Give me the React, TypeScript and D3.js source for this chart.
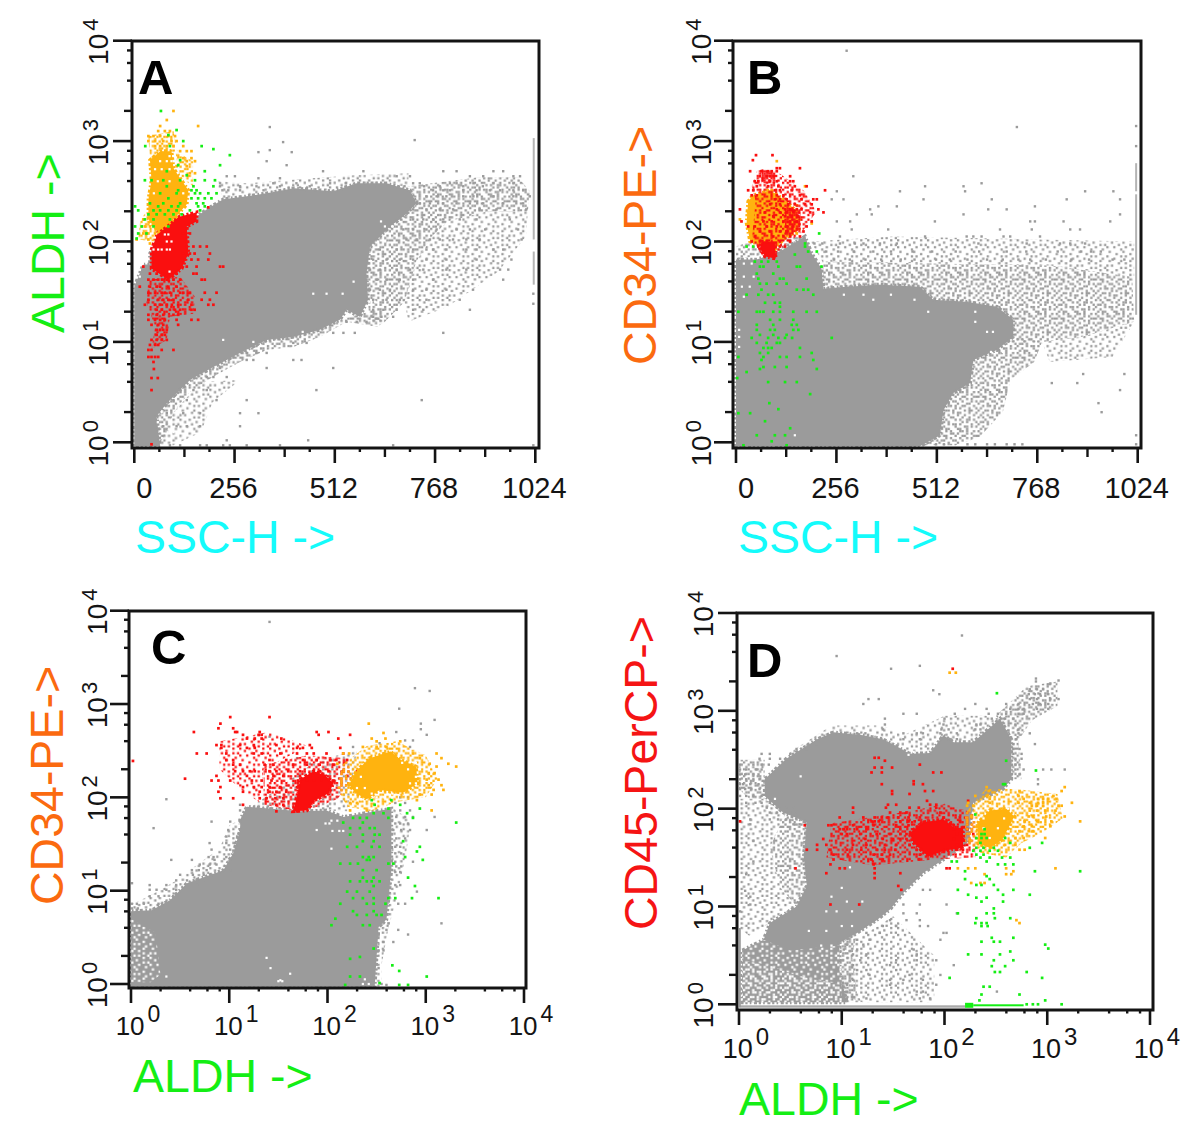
import React from "react";
import * as d3 from "d3";

// Rows are [yExponent, x1, x2, ...]; polygons are [x, yExponent]. y (and x on log axes) are log10 intensities.
type Row = number[];
type Poly = number[][];

const COLORS = { gray: "#9b9b9b", red: "#fa0f0f", orange: "#ffb30f", green: "#14ee14", white: "#ffffff", edge: "#b4b4b4" };
const linearTicks = [0, 256, 512, 768, 1024];
const linearMinor = [64, 128, 192, 320, 384, 448, 576, 640, 704, 832, 896, 960];
const decades = [0, 1, 2, 3, 4];
const minorFactors = [2, 4, 6, 8];

// Stipple textures for the loosely populated parts of each dot plot
const speckDense = ["x.xx.xxx.x.xx","xx.xxx.xxx.x.",".xxx.x.xx.xxx","x.x.xxx.xxx.x","xxx.x.xx.x.xx",".x.xxx.xxx.x.","xx.x.xxx.xxxx","x.xxx.x.xx.x.",".xx.xxx.x.xxx","xx.xx.xxx.x.x","x.xxx.x.xxx.x",".xx.x.xxx.xx.","xxx.xxx.x.x.x"];
const speckMid = ["x..x.x...xx.x..x.",".x...xx.x...x.x..","x.xx...x..xx...xx","...x.x...x..x.x..",".xx...xx..x...x.x","x...x...x...xx...","..x.xx.x..xx...x.",".x.....x.x...x..x","x..xx.x....x.xx..","..x...x.xx...x..x",".x..x...x..x...x.","x.x..xx...x..x...","...x...x.x..xx.x.",".xx.x.....x.x...x","x...x.xx.x....x..","..x....x...xx.x.x",".x.xx...xx..x...."];
const speckSparse = ["x...x.....x..","..x....x.....",".....x....x.x","x..x....x....","......x....x.",".x.....x.....","....x.....x..","x.....x.x....","...x.......x.",".x....x...x..",".....x..x....","x.x.......x..","......x.x...x"];
const SPECK = 2.3;
const tex = (c: string, d: "dense" | "mid" | "sparse") => `url(#${c}-${d})`;

// ---------- Panel A ----------
const aGrayPoly: Poly = [[0,-.04],[0,1.55],[23,1.77],[40,1.77],[40,1.88],[66,2.08],[117,2.22],[159,2.25],[189,2.33],[227,2.42],[287,2.45],[338,2.48],[406,2.53],[508,2.5],[568,2.58],[644,2.58],[704,2.51],[721,2.38],[687,2.25],[653,2.15],[602,1.95],[593,1.68],[597,1.42],[576,1.25],[542,1.32],[525,1.22],[474,1.12],[406,1.05],[338,1.02],[270,.89],[202,.75],[142,.62],[83,.39],[57,.26],[66,-.04]];
const aGrayMid: Poly[] = [
  [[700,2.55],[800,2.6],[880,2.64],[980,2.64],[1010,2.5],[1005,2.3],[900,2.3],[800,2.2],[760,2.05],[720,1.8],[690,1.4],[640,1.2],[600,1.2],[597,1.42],[593,1.68],[602,1.95],[653,2.15],[687,2.25],[721,2.38]],
  [[597,1.3],[640,1.2],[620,1.15],[542,1.2],[474,1.05],[406,.95],[338,.92],[270,.8],[200,.65],[142,.5],[100,.3],[83,.1],[66,0],[57,.26],[83,.39],[142,.62],[202,.75],[270,.89],[338,1.02],[406,1.05],[474,1.12],[525,1.22]],
];
const aGraySparse: Poly[] = [
  [[800,2.2],[900,2.3],[1005,2.3],[1000,2.05],[930,1.7],[800,1.35],[700,1.2],[690,1.4],[720,1.8],[760,2.05]],
  [[57,-.03],[100,-.03],[170,.1],[200,.4],[270,.62],[170,.6],[100,.3]],
  [[210,2.6],[290,2.58],[420,2.62],[560,2.66],[700,2.68],[700,2.55],[568,2.58],[508,2.5],[406,2.53],[287,2.45],[227,2.42]],
];
const aGrayRows: Row[] = [
[3.14,346],[3.01,716],[2.99,380],[2.91,346],[2.89,317,402],[2.8,338],[2.76,389],[2.7,482,585,789,823,917,942],[2.65,236,257,670,704,857,891,968,985],[2.63,317,372],
[2.58,219,355,414,500,540,712,729,806,823,866,917,968],[2.55,219,270,312,372,448,580,620,650,690,740,780,840,890],[2.51,225,240,270,330,763,789,806,840,874,908,934,968,993],[2.45,746,772,797,840,866,917,968,1010],[2.38,729,755,789,823,857,891,942,993],[2.32,712,746,780,814,882,925,1001],[2.22,712,738,763,789,831,874,959],[2.12,687,712,746,772,823,857,896,980],[2.02,695,721,755,780,814,848,882,989],[1.92,627,670,712,746,763,797,848,874,917,942],[1.82,610,644,678,712,746,797,874,963],[1.72,602,627,670,704,738,797,848,934,955],[1.62,593,619,644,678,712,763,942],[1.52,602,627,653,712,746,797,865],[1.42,610,644,678,746,831],[1.32,610,636,670,712,738,857],[1.25,610,631,661],[1.2,542,568,593],[1.09,508,534,563,789],[.99,406,440],[.89,287,312,338],[.82,406,427,287,304],[.74,508,338,219],[.65,202,236,185],[.52,465,117,151,185],[.42,734,100,134,210,287],[.29,83,125,168,270,317],[.16,74,108,134,168,270],[.02,236,444],[-.03,91,117,168,185,227,244,287,372,661,1019],[1.48,1019],[1.38,1019]
];
const aGrayWhite: Row[] = [[1.02,227],[1.48,457,491,532],[1.65,14],[1.72,14],[1.78,14,22],[1,304],[.3,70],[.2,90,60],[.1,85,100],[1.1,430],[2.0,622,640],[2.15,640,660],[2.2,630],[1.6,560],[1.4,600,615]];
const aRedPoly: Poly = [[44,1.92],[66,2.15],[117,2.25],[159,2.29],[159,2.2],[134,2.15],[138,1.88],[121,1.73],[87,1.62],[44,1.73]];
const aRedMid: Poly[] = [[[36,1.62],[117,1.65],[155,1.45],[151,1.28],[91,1.25],[83,1.02],[44,.93],[53,1.15],[31,1.39]]];
const aRedRows: Row[] = [
[2.34,189],[2.08,125,142],[1.95,134,151,168,185],[1.88,125,142,154,193],[1.82,129,146,163,189],[1.75,23,134,159,219,227],[1.68,40,57,74,91,108,151,159],[1.62,36,49,61,71,83,100,117,172,180],[1.55,40,57,66,87,108,14],[1.49,36,53,70,78,91,117,125,142,180,210],[1.42,36,61,74,87,100,138,172,193],[1.37,27,53,66,83,96,112,146,189,202],[1.32,57,70,91,104,117,146,154],[1.27,36,57,74,100,112],[1.22,36,53,66,78,108,146,163],[1.17,44,61,74,112],[1.12,57,66,74,83],[1.07,57,70,78],[1.02,44,57,70,83],[.97,40,53,61],[.92,36,44,70,100],[.85,36,44,53,61],[.8,49],[.73,50],[.64,44,60],[.52,44],[-.02,44]
];
const aRedWhite: Row[] = [[1.92,49,61,70,83,91],[2,83,95],[2.07,78,87],[1.7,90]];
const aOrangePoly: Poly = [[40,2.81],[66,2.9],[95,2.9],[100,2.73],[117,2.63],[138,2.51],[134,2.37],[100,2.22],[61,2.1],[36,2.22],[36,2.42],[44,2.61]];
const aOrangeMid: Poly[] = [[[36,3.05],[100,3.1],[110,2.9],[66,2.88],[40,2.8]],[[30,2.3],[60,2.1],[50,2],[10,2.02],[15,2.2]],[[105,2.9],[150,2.8],[150,2.55],[115,2.65]]];
const aOrangeRows: Row[] = [[3.3,100],[3.21,83],[3.15,66,163],[3.1,61,78,91],[3.05,36,49,66,87,104],[3,36,53,74,95,108],[2.95,53,66,83,100,125],[2.9,117,134,146],[2.83,125,146],[2.8,134,155],[2.75,108,134],[2.68,142,155],[2.22,23],[2.15,27,40],[2.08,23,36,53],[2.02,6,36],[1.98,40]];
const aOrangeWhite: Row[] = [[2.85,90,100],[2.8,66,83,95],[2.72,53,70,90],[2.6,60,90],[2.48,50,125]];
const aGreenRows: Row[] = [[3.3,68],[3.11,108],[3.06,87],[3,125],[2.95,28,91,172],[2.92,202],[2.86,244],[2.81,117],[2.76,112,219],[2.7,83,180],[2.66,134],[2.61,27,44,74,117,155,180,206],[2.55,83,151,202],[2.51,112,146,159],[2.48,66,108,155,168,189,210],[2.43,87,146,163,180,197],[2.38,40,74,117,159,176],[2.35,2,61,95,112,163,180],[2.31,10,49,66,87,108,142,168],[2.27,36,57,78,100,121],[2.22,27,49,91],[2.15,2,19,49,87],[2.08,10,31],[2.03,6]];
const aEdge: number[][] = [[3.03,2.02],[1.9,1.57]];

// ---------- Panel B ----------
const bGrayPoly: Poly = [[0,-.04],[0,1.82],[53,1.82],[112,1.9],[176,2.05],[193,1.88],[218,1.73],[223,1.53],[282,1.55],[367,1.57],[469,1.55],[503,1.42],[588,1.4],[665,1.35],[707,1.22],[707,1.05],[665,.92],[605,.82],[597,.59],[554,.49],[529,.32],[520,.07],[469,-.04]];
const bGrayMid: Poly[] = [
  [[220,1.8],[500,1.78],[800,1.76],[1010,1.65],[1015,1.2],[880,1.05],[780,1],[700,1],[707,1.22],[665,1.35],[588,1.4],[503,1.42],[469,1.55],[223,1.53]],
  [[665,.92],[707,1.05],[780,1],[760,.8],[700,.62],[680,.3],[620,.05],[560,-.03],[469,-.03],[520,.07],[529,.32],[554,.49],[597,.59],[605,.82]],
  [[0,1.82],[112,1.9],[176,2.05],[50,2.02],[0,1.95]],
];
const bGraySparse: Poly[] = [
  [[190,2.0],[400,2.05],[1015,2.0],[1015,1.65],[800,1.76],[500,1.78],[220,1.8]],
  [[880,1.05],[1015,1.2],[960,.85],[800,.8],[780,1]],
];
const bGrayRows: Row[] = [
[3.9,282],[3.15,1020],[3.14,716],[2.95,1020],[2.65,299],[2.58,626],[2.55,482,580],[2.5,257,418,584,890,962],[2.42,244,274,478,652,843,979],[2.35,363,410,762],[2.32,342,643,690],[2.27,308,346,580,979],[2.2,257,291,507,835,750,762,954],[2.12,295,388,673,852,877,754],[2.05,482,265,588,605,626,682,699,775],[1.98,265,303,325,367,410,618,741,852,890,826,200,220],
[1.9,230,260,300,350,395,450,500,560,620,690,740,820,880,930,905],[1.82,250,290,330,370,420,455,510,545,590,640,680,720,750,790,855,900,960,990],[.68,885,990],[.59,870,805],[.52,979],[.39,924],[.3,932],[.07,1020],[-.02,510,530,590,610,640,660,690,710,730,1020]
];
const bGrayWhite: Row[] = [[1.78,20,40],[1.65,20,45],[1.55,15,35],[1.45,20],[1.12,8],[1.05,8],[.95,8],[.07,150],[1.42,350,455],[1.47,275,325,395],[1.3,490,610],[1.2,610],[1.1,640,655],[.9,650,680]];
const bOrangePoly: Poly = [[31,2.4],[44,2.46],[87,2.51],[121,2.42],[155,2.3],[160,2.12],[120,2.02],[99,1.92],[36,2],[27,2.18]];
const bOrangeRows: Row[] = [[2.8,104],[2.55,176],[2.51,78,91],[2.36,155],[2.29,31],[2.22,10,163],[2.18,193],[2.08,155]];
const bRedPoly: Poly = [[65,2],[99,2],[101,1.83],[74,1.85],[61,1.93]];
const bRedMid: Poly[] = [[[55,2.72],[110,2.68],[175,2.5],[205,2.3],[170,2.1],[120,1.95],[100,1.85],[70,1.85],[40,2],[50,2.4],[40,2.55]]];
const bRedDenseBits: Poly[] = [[[125,2.35],[165,2.3],[165,2.12],[125,2.05]],[[65,2.72],[100,2.7],[100,2.58],[65,2.58]]];
const bRedRows: Row[] = [
[2.86,51,93],[2.81,43],[2.73,104,112,163],[2.7,36,65,82,91,104],[2.65,61,78,87,96,138],[2.6,48,57,87,104,138,146],[2.55,53,82,108,150,180],[2.51,31,44,99,112,142,227],[2.46,40,53,104,121,163],[2.42,99,112,129,167,197,206],[2.37,87,112,133,150,176,193],[2.32,10,104,125,138,155,167,210],[2.29,74,112,129,146,189,223],[2.25,95,125,142,159],[2.2,14,70,91,121,138,155,193],[2.15,31,48,78,104,129,146,180],[2.1,61,87,112,129,172],[2.05,48,95,121,138,163],[2,40,61,112,138],[1.95,57,112,125]
];
const bGreenRows: Row[] = [[2.08,212],[1.98,176],[1.95,27,44,176],[1.9,184,206],[1.87,150],[1.8,48,65,82,104],[1.75,61,70,108,155,163,218],[1.68,53,95],[1.63,57,112,121,180],[1.58,61,78,104,129],[1.52,65,155,172,184],[1.47,27,57,82,95,197],[1.39,74,99,112],[1.35,112],[1.3,6,53,61,70,95,112,146,180,206],[1.22,87,112,146],[1.17,53,95,142,155],[1.12,53,87,99,146,159],[1.07,61,95,129],[1.04,40,82,108,125,143,244],[.99,53,78,104,112],[.94,70,82,91,163],[.89,61,82,193],[.85,6,70,112,129,163],[.82,65,197],[.75,70,99,129],[.73,61,206],[.7,27],[.64,3],[.6,82,125,155],[.48,189],[.39,85],[.33,108],[.29,6,36],[.21,74],[.14,138],[.07,53,99,125],[.01,91],[-.03,19,129]];
const bEdge: number[][] = [[2.47,1.27],[2.78,2.5]];

// ---------- Panel C ----------
const cGrayPoly: Poly = [[0,-.03],[0,.78],[.21,.79],[.4,.9],[.57,1.08],[.94,1.22],[1.04,1.4],[1.11,1.65],[1.11,1.76],[1.18,1.9],[1.72,1.85],[1.99,1.86],[2.16,1.79],[2.65,1.88],[2.65,1.22],[2.6,.69],[2.52,.61],[2.48,-.03]];
const cGraySparse: Poly[] = [
  [[0,.78],[.21,.79],[.4,.9],[.57,1.08],[.94,1.22],[1.04,1.4],[1.11,1.76],[1,1.7],[.9,1.45],[.7,1.3],[.45,1.1],[.2,.95],[0,.85]],
  [[2.65,1.9],[2.85,1.75],[2.8,1.4],[2.7,.9],[2.62,.6],[2.55,.2],[2.55,-.03],[2.48,-.03],[2.52,.61],[2.6,.69],[2.65,1.22]],
  [[1.2,1.88],[2.2,1.85],[2.3,2.5],[1.9,2.4],[1.5,2.1]],
];
const cGrayWhiteSparse: Poly[] = [[[0,.02],[0,.7],[.25,.55],[.3,.1],[.2,.02]]];
const cGrayRows: Row[] = [
[3.88,1.41],[3.17,2.89],[3.14,3.04],[2.95,2.73],[2.83,3.09],[2.79,2.95],[2.73,2.95],[2.7,2.7],[2.67,3.01],[2.65,1.41],[2.61,2.87,2.79],[2.58,2.53],[2.54,2.84,2.26],[2.42,1.69],[2.36,1.82],[2,2.82,2.74,1.52],[1.98,.36],[1.94,2.69,2.79],[1.86,2.74,2.84,1.11],[1.92,1.11],[1.79,2.7,2.79,2.87,3.09],[1.74,.82,1.01,1.11],[1.72,2.69,2.74,2.82],[1.67,.23],[1.65,2.67,2.75,2.84,3.01,.99,1.11],[1.58,.97,1.08],[1.56,2.7,2.79],[1.51,.8,.97,1.06],[1.47,2.69,2.74],[1.44,.82,1.01],[1.4,2.69,2.75],[1.36,.79,.84,.97],[1.33,.41,.62,.85],[1.31,2.69,2.87],[1.28,.7,.8,.87],[1.26,2.7,2.75],[1.22,.62,.69,.77,1.01],[1.2,2.69,2.74],[1.17,.5,.63,.74,.82],[1.11,.46,.57,.67,.74],[1.08,.01],[1.06,.19,.36,.46,.67,2.69,2.74],[1.01,.19,.26,.36,.46],[.99,2.91],[.94,.19,.28,.43],[.86,.01,.06,.13,.28,2.72,2.79],[.81,.01,.07],[.65,3.16,2.62],[.58,2.72,2.6],[.53,2.82,2.52],[.45,2.67,2.57],[.36,2.52,2.57],[.26,2.5],[.17,2.52],[.08,2.47],[0,2.55],[-.01,2.6]
];
const cGrayWhite: Row[] = [[.08,.36],[.04,1.52],[.03,1.5,1.54],[.17,1.42],[.28,1.38],[.11,1.62],[1.65,1.89],[1.45,2.04],[1.72,1.98,2.02],[1.75,2.04,2.1],[1.64,2.05,2.12,2.16],[.05,2.38],[0,2.42,2.36],[1.7,1.1],[1.6,1.02]];
const cRedPoly: Poly = [[1.65,1.85],[1.79,1.86],[1.87,1.97],[2.01,2.04],[2.06,2.15],[1.97,2.24],[1.86,2.28],[1.72,2.19],[1.69,2.01]];
const cRedMid: Poly[] = [[[1.35,2.35],[1.8,2.45],[2.2,2.42],[2.25,2.2],[2.1,1.98],[1.9,1.9],[1.7,1.85],[1.35,1.92]]];
const cRedSparse: Poly[] = [[[.9,2.6],[1.4,2.7],[1.8,2.55],[1.35,2.3],[1.3,1.95],[1.1,2.1],[.9,2.3]]];
const cRedRows: Row[] = [
[2.86,1.01,1.41],[2.79,.91],[2.74,.89,1.04],[2.7,.64,1.06,1.08,1.31,1.89,2.01],[2.67,1.14,1.3,1.33,1.91,2.23],[2.63,1.18,1.26,1.33,1.53,2.11],[2.56,.87,.92,1.11,1.25,1.48,1.82],[2.53,.92,1.18,1.26,1.69,1.75,1.84,2.13],[2.47,.67,.77,.97,1.25,1.33,1.52,1.69,1.79,1.86,1.99,2.16],[2.4,.97,1.04,1.41,1.58,1.75,1.89,2.03,2.09,2.2],[2.35,1.04,1.11,1.36,1.45,1.65,1.79,1.92,2.06],[2.28,1.06,1.14,1.21,1.26,1.41,1.48,1.6,1.72,1.86,1.92,2.01,2.16,2.3],[2.23,.87,1.18,1.45,1.55,1.72,1.82,1.97,2.2],[2.18,.82,.89,1.01,1.23,1.33,1.43,1.7,1.79,1.86,1.94,2.06],[2.11,.91,1.14,1.25,1.33,1.41,1.52,1.69],[2.06,.89,1.14,1.31,1.41,1.48,1.58],[1.99,.91,1.04,1.31,1.38,1.47,1.55],[1.92,1.14,1.48,1.55,1.69],[1.85,1.48,1.69],[2.39,.02],[2.2,.55]
];
const cOrangePoly: Poly = [[2.3,2.29],[2.43,2.42],[2.64,2.49],[2.75,2.4],[2.9,2.33],[2.92,2.15],[2.77,2.05],[2.53,2.08],[2.4,1.98],[2.28,2.05],[2.22,2.14]];
const cOrangeMid: Poly[] = [[[2.15,2.35],[2.4,2.55],[2.7,2.6],[3,2.45],[3.12,2.2],[3,2],[2.7,1.95],[2.45,1.85],[2.2,1.9],[2.1,2.1]]];
const cOrangeRows: Row[] = [[2.79,2.42],[2.69,2.57],[2.63,2.45,2.59],[2.6,2.5,2.74],[2.54,2.36,2.5,2.6],[2.47,2.87,3.11,2.16,2.22],[2.42,2.94,3.16],[2.36,3.04,3.23,2.1],[2.33,3.31,3.11],[2.26,3.03,3.09],[2.19,3.01,3.13],[2.13,3.03,3.16],[2.08,3.08,3.18],[2.03,2.94,3.06],[1.97,2.91],[1.94,2.23,2.3],[1.86,2.23,2.4,3.06]];
const cOrangeWhite: Row[] = [[2.0,2.5,2.58],[2.04,2.45,2.66],[2.1,2.3,2.38],[2.22,2.9,2.34],[2.3,2.82,2.94],[2.15,2.84,2.9],[2.37,2.76,2.9],[1.98,2.34]];
const cGreenRows: Row[] = [[1.97,2.45,2.65],[1.92,2.74,2.48],[1.88,2.62,2.94],[1.83,2.47,2.57,2.81],[1.78,2.26,2.33,2.4,2.62,2.87],[1.73,2.16,2.36,3.31],[1.67,2.23,2.33,2.43,2.48],[1.6,2.23,2.36,2.48,2.53],[1.53,2.36,2.47,2.77],[1.47,2.2,2.3,2.45,2.53,2.94],[1.42,2.91],[1.36,2.36,2.42,2.47,2.79],[1.33,2.97,2.4,2.43],[1.29,2.13,2.23,2.31,2.62,2.67],[1.22,2.36,2.5],[1.14,2.36,2.47,2.82],[1.1,2.23,2.33,2.4,2.45,2.53],[1.05,2.89,2.47],[.99,2.2,2.3,2.43],[.92,2.26,2.36,2.47,2.62,2.69,2.86,3.13],[.86,2.13,2.4,2.47,2.59],[.78,2.26,2.47],[.74,2.3,2.4,2.5,2.55],[.7,2.08],[.63,2.04,2.36,2.43],[.38,2.47],[.29,2.33],[.27,2.23],[.2,2.66],[.14,2.73],[.08,2.23,2.33,3.01],[.01,2.53],[-.01,2.18,2.73,2.82]];

// ---------- Panel D ----------
const dGrayPoly: Poly = [[.25,2.13],[.25,2.3],[.46,2.51],[.76,2.71],[.92,2.78],[1.21,2.75],[1.4,2.71],[1.53,2.64],[1.66,2.56],[1.86,2.57],[1.99,2.75],[2.09,2.68],[2.28,2.68],[2.54,2.92],[2.65,2.71],[2.65,2.3],[2.57,2.2],[2.28,2.06],[2.22,1.65],[1.99,1.48],[1.79,1.34],[1.6,1.14],[1.47,.97],[1.34,.86],[1.15,.73],[.98,.63],[.98,.32],[1.05,.02],[.03,.02],[.03,.55],[.24,.66],[.3,.83],[.56,1],[.66,1.21],[.63,1.51],[.66,1.86],[.43,1.96]];
const dGrayMid: Poly[] = [
  [[2.5,2.95],[2.8,3.25],[3.1,3.3],[3.1,3.05],[2.85,2.9],[2.72,2.7],[2.75,2.3],[2.65,2.3],[2.65,2.71]],
  [[.98,.02],[1.2,.02],[1.15,.1],[1.1,.5],[1.15,.73],[.98,.63]],
  [[0,2.5],[.25,2.5],[.25,2.1],[.1,2.1],[0,2.2]],
  [[.45,1.95],[.66,1.86],[.63,1.51],[.66,1.21],[.56,1],[.4,1.2],[.3,1.6]],
];
const dGraySparse: Poly[] = [
  [[0,2.1],[.25,2.1],[.45,1.95],[.3,1.6],[.4,1.2],[.56,1],[.3,.83],[.1,.7],[0,.78]],
  [[1,.63],[1.2,.7],[1.5,.9],[1.7,.7],[1.9,.5],[1.9,.02],[1.2,.02],[1,.1]],
  [[.5,2.58],[.9,2.85],[1.4,2.85],[1.6,2.75],[2,2.95],[2.4,2.95],[2.54,2.92],[2.28,2.68],[2.09,2.68],[1.99,2.75],[1.86,2.57],[1.66,2.56],[1.53,2.64],[1.4,2.71],[1.21,2.75],[.92,2.78],[.76,2.71],[.46,2.51]],
];
const dGrayWhiteMid: Poly[] = [[[.03,.02],[.03,.45],[.3,.4],[.55,.3],[.75,.25],[1,.2],[1,.02]]];
const dGrayWhiteSparse: Poly[] = [[[.03,.45],[.03,.55],[.24,.66],[.5,.55],[.98,.6],[1,.2],[.75,.25],[.55,.3],[.3,.4]]];
const dGrayRows: Row[] = [
[3.77,2.17],[3.56,.95],[3.46,1.76],[3.43,1.48],[3.33,2.89],[3.31,3.11],[3.3,2.89],[3.28,3.03],[3.22,2.83,2.9,2.96],[3.21,1.89],[3.17,1.95,2.82,2.88,2.93,3.01],[3.12,1.26,1.36,2.83,2.9,3.03,3.11],[3.07,1.21,2.3,2.6,2.72,2.86,2.93,3.01],[3.02,2.2,2.41,2.64,2.72,2.77,2.9,3.01],[2.97,1.6,1.73,2.1,2.43,2.52,2.6,2.72,2.77],[2.92,1.42,2,2.46,2.59,2.67],[2.86,1.42,1.99,2.31,2.35,2.69],[2.81,1.4,1.97,2.04,2.3,2.35,2.72],[2.77,1.15,1.23,1.6,1.73,1.79,1.96,2.12,2.72,2.83],[2.71,1.34,1.6,1.76,1.96,2.05,2.12,2.7],[2.66,.76,2.67,2.88],[2.61,.56,.66,2.67,2.73],[2.56,.22,.3,.5,2.67,2.75],[2.51,.2,.3,.4,2.69,2.75],[2.45,.01,.14,.22,.29,2.69,2.73],[2.4,.01,.07,.17,.22,2.69,2.77,2.96,3.04,3.17],[2.35,.01,.06,.14,.19,2.65,2.73],[2.3,.01,.07,.14,.2,2.91],[2.25,.01,.04,.11,.19,2.91],[2.2,.01,.06,.12,.2],[2.13,.01,.07,.14,.22],[2.06,.07,.16,.22,.3],[2.01,.27,.37,.46,.53],[1.96,.3,.37,.5,.56],[1.89,.11,.3,.38,.46,.56],[1.84,.11,.53,.59],[1.67,.14],[1.46,.14],[1.33,.07],[1.17,1.79,1.86],[1.16,.06],[1.1,.11],[1.02,.11,1.6,1.76,2.02],[.95,.01],[.93,1.6,1.73,2.12],[.86,1.47,1.63,1.76],[.8,1.4,1.53,1.76,1.84],[.73,1.24,1.37,2.02,1.99],[.66,1.15,1.27,1.96],[.61,1.05,1.21],[.56,1.02,1.15,1.7],[.51,1.11,1.24,1.73],[.45,1.18,1.53,1.73,1.92],[.4,1.11,1.47,2.09],[.35,1.15,1.24,1.53],[.3,1.08,1.27,1.66,1.96],[.25,1.11,1.47,1.6,1.79],[.2,1.05,1.47,1.92],[.13,1.05,1.73,1.79,2.51],[.06,1.05,1.24,1.76,1.86]
];
const dGrayWhite: Row[] = [[.6,.8,.9],[.75,.68,.85],[1.05,1.05,1.2],[.95,.85,.95,1.1],[1.19,1.0],[1.1,.9],[.8,1.0,1.1],[2.33,.6],[2.1,.35],[2.55,1.65],[2.58,1.7],[1.4,1.08]];
const dRedPoly: Poly = [[1.66,1.75],[1.79,1.86],[1.99,1.89],[2.09,1.81],[2.18,1.8],[2.18,1.6],[1.99,1.57],[1.84,1.51],[1.7,1.65]];
const dRedMid: Poly[] = [[[.9,1.85],[1.7,1.98],[2,2.05],[2.3,1.95],[2.3,1.5],[1.9,1.48],[1.3,1.42],[.85,1.5]]];
const dRedRows: Row[] = [
[3.43,2.08],[2.52,1.32,1.36],[2.49,1.42],[2.45,1.76],[2.42,1.32,1.39,1.49],[2.37,1.29,1.39,1.89,1.97],[2.28,1.7],[2.25,1.39,1.7,1.79],[2.18,1.49,1.89,1.81],[2.15,1.49,1.66],[2.08,1.83,2.23],[2.04,1.45,1.53,1.86,1.92],[2.01,1.11,1.43,1.66,1.75,1.92],[1.96,1.11,1.47,1.57,1.63,1.96],[1.91,.98,1.21,1.32,1.39,1.45,1.55,1.65,1.76,1.99,2.15],[1.87,.01,1.29,1.32,1.36,1.57,1.65,1.71,2.15],[1.83,.64,.87,.9,1.11,1.31,1.53,1.65,2.09],[1.79,.98,1.02,1.05,1.15,1.24,1.57,2.09,2.22],[1.74,1,1.05,1.18,1.34,1.47,1.57,1.63,2.12,2.28],[1.69,.82,1.23,1.4,1.5,1.57,1.63,2.09,2.18],[1.63,.76,.85,1.11,1.24,1.42,1.53,1.66,2.12,2.22],[1.58,.66,.76,.89,1.05,1.19,1.34,1.42,1.52,1.73,2.12,2.18],[1.53,.92,1.06,1.31,1.39,1.47,1.76],[1.48,.92,1.29,1.4,1.75],[1.43,.89,1.31],[1.39,.55,.98,1.03,1.32,2.02,2.05],[1.34,.85,1.32,1.57],[1.29,1.32],[1.21,1.55],[1.17,1.58],[1.02,.89,1.17]
];
const dOrangePoly: Poly = [[2.32,1.85],[2.44,1.98],[2.6,2],[2.68,1.92],[2.62,1.8],[2.56,1.68],[2.44,1.6],[2.33,1.64]];
const dOrangeMid: Poly[] = [[[2.2,1.95],[2.4,2.2],[2.7,2.2],[3.1,2.15],[3.15,1.9],[2.95,1.75],[2.75,1.65],[2.6,1.5],[2.35,1.55],[2.2,1.65]]];
const dOrangeRows: Row[] = [[3.39,2.05,2.11],[2.22,3.17,2.41],[2.18,2.73,3.14,2.43],[2.13,2.3,2.41,2.72,3.06],[2.1,2.44,2.77,2.91,2.96,3.01,3.09],[2.06,2.23,2.44,2.72,2.83,2.91,2.96,3.24],[2.03,2.22,2.28,2.85,2.9,2.96,3.11,3.14],[1.98,2.83,2.9,2.98,3.08],[1.92,2.26,2.82,2.86,2.99,3.17],[1.87,2.78,2.9,3.04,3.32],[1.82,2.77,2.85,3.03],[1.77,2.73,2.82,2.86],[1.7,2.69,2.77,2.98],[1.63,2.59,2.69],[1.58,2.73,2.78],[1.39,2.13,2.23,2.3,2.6,3.08],[1.36,2.67],[1.33,2.39,2.6,2.65],[1.24,2.26,2.35,2.39],[.86,2.7],[.83,2.73]];
const dOrangeWhite: Row[] = [[2,2.5,2.62],[1.9,2.38,2.58],[1.8,2.52,2.38],[1.7,2.44]];
const dGreenRows: Row[] = [[3.18,2.51],[2.49,2.6],[2.39,2.89],[2.25,2.57,2.59],[1.94,2.3],[1.79,2.39],[1.74,2.39,2.36],[1.7,2.31,2.36,2.41,2.59],[1.65,2.35,2.64,2.95],[1.6,2.31,2.38,2.48,2.83],[1.57,2.28,2.35,2.44,2.52],[1.53,2.31,2.38],[1.5,2.35,2.44,2.56,2.64],[1.46,2.07,2.12,2.41],[1.43,2.52,2.59,2.67],[1.36,2.2,2.88,3.32],[1.31,2.41],[1.28,2.2,2.44],[1.22,2.31,2.36,2.48],[1.17,2.13,2.52,2.67],[1.12,2.23,2.57,2.83],[1.09,2.31,2.41],[1.05,2.36,2.57],[.98,2.48],[.93,2.13,2.41,2.48],[.88,2.31,2.49,2.64],[.83,2.3,2.36,2.41],[.8,2.36,2.42],[.68,2.46,2.67],[.64,2.36,2.48,2.54],[.61,2.98],[.57,3.01],[.54,2.64],[.51,2.23,2.36,2.54],[.45,2.48,2.67],[.39,2.46,2.59],[.33,2.49,2.54,2.8],[.27,2.05,2.95],[.18,2.38,2.44],[.1,2.36,2.73],[.04,2.34,2.98],[0,2.8,2.86,2.91,3.14]];
const dGrayBaseline: number[] = [0, 2.2];
const dGreenBaseline: number[][] = [[2.2, 2.28, 5], [2.28, 2.77, 2]];
const dGrayLeftEdge: number[][] = [[-.03, .78]];

type Layer = { poly?: Poly; polys?: Poly[]; rows?: Row[]; color: string; size?: number };
type Label = { text: string; color: string; x: number; y: number; rot?: boolean };
type Panel = {
  xLog: boolean; frame: number[]; xr: number[]; yr: number[]; letter: string; lx: number; ly: number;
  layers: Layer[]; xlabelY: number; ylabelX: number; xlabelSize: number; titles: Label[]; edge?: number[][];
  post?: (xs: (v: number) => number, ys: (v: number) => number) => React.ReactNode;
};

const G = 2.4; const C = 2.7; const W = 2.2;
const panels: Panel[] = [
  {
    xLog: false, frame: [132, 41, 539, 448], xr: [134.3, 535.3], yr: [442.3, 40.7], letter: "A", lx: 138, ly: 94, xlabelY: 498, ylabelX: 108, xlabelSize: 29,
    edge: aEdge,
    layers: [
      { polys: aGraySparse, color: tex("gray", "sparse") }, { polys: aGrayMid, color: tex("gray", "mid") },
      { poly: aGrayPoly, color: COLORS.gray }, { rows: aGrayRows, color: COLORS.gray, size: G }, { rows: aGrayWhite, color: COLORS.white, size: W },
      { polys: aRedMid, color: tex("red", "mid") }, { poly: aRedPoly, color: COLORS.red }, { rows: aRedRows, color: COLORS.red, size: C }, { rows: aRedWhite, color: COLORS.white, size: W },
      { polys: aOrangeMid, color: tex("orange", "mid") }, { poly: aOrangePoly, color: COLORS.orange }, { rows: aOrangeRows, color: COLORS.orange, size: C }, { rows: aOrangeWhite, color: COLORS.white, size: W },
      { rows: aGreenRows, color: COLORS.green, size: C },
    ],
    titles: [
      { text: "SSC-H ->", color: "#14fbfb", x: 135, y: 553 },
      { text: "ALDH ->", color: "#14ee14", x: 64, y: 333, rot: true },
    ],
  },
  {
    xLog: false, frame: [733, 41, 1141, 448], xr: [736, 1137.7], yr: [442.3, 40.7], letter: "B", lx: 747, ly: 94, xlabelY: 498, ylabelX: 711, xlabelSize: 29,
    edge: bEdge,
    layers: [
      { polys: bGraySparse, color: tex("gray", "sparse") }, { polys: bGrayMid, color: tex("gray", "mid") },
      { poly: bGrayPoly, color: COLORS.gray }, { rows: bGrayRows, color: COLORS.gray, size: G }, { rows: bGrayWhite, color: COLORS.white, size: W },
      { rows: bGreenRows, color: COLORS.green, size: C },
      { poly: bOrangePoly, color: COLORS.orange }, { rows: bOrangeRows, color: COLORS.orange, size: C },
      { polys: bRedMid, color: tex("red", "mid") }, { polys: bRedDenseBits, color: tex("red", "dense") }, { rows: bRedRows, color: COLORS.red, size: C }, { poly: bRedPoly, color: COLORS.red },
    ],
    titles: [
      { text: "SSC-H ->", color: "#14fbfb", x: 738, y: 553 },
      { text: "CD34-PE->", color: "#fb6a0f", x: 656, y: 365, rot: true },
    ],
  },
  {
    xLog: true, frame: [129, 611, 526, 988], xr: [131, 524], yr: [984, 610.7], letter: "C", lx: 151, ly: 664, xlabelY: 1035, ylabelX: 107, xlabelSize: 26,
    layers: [
      { polys: cGraySparse, color: tex("gray", "sparse") },
      { poly: cGrayPoly, color: COLORS.gray }, { rows: cGrayRows, color: COLORS.gray, size: G }, { polys: cGrayWhiteSparse, color: tex("white", "sparse") }, { rows: cGrayWhite, color: COLORS.white, size: W },
      { polys: cRedSparse, color: tex("red", "sparse") }, { polys: cRedMid, color: tex("red", "mid") }, { poly: cRedPoly, color: COLORS.red }, { rows: cRedRows, color: COLORS.red, size: C },
      { polys: cOrangeMid, color: tex("orange", "mid") }, { poly: cOrangePoly, color: COLORS.orange }, { rows: cOrangeRows, color: COLORS.orange, size: C }, { rows: cOrangeWhite, color: COLORS.white, size: W },
      { rows: cGreenRows, color: COLORS.green, size: C },
    ],
    titles: [
      { text: "ALDH ->", color: "#14ee14", x: 133, y: 1092 },
      { text: "CD34-PE->", color: "#fb6a0f", x: 63, y: 905, rot: true },
    ],
  },
  {
    xLog: true, frame: [737, 613, 1153, 1010], xr: [739, 1150], yr: [1004.3, 613], letter: "D", lx: 747, ly: 677, xlabelY: 1058, ylabelX: 713, xlabelSize: 27,
    layers: [
      { polys: dGraySparse, color: tex("gray", "sparse") }, { polys: dGrayMid, color: tex("gray", "mid") },
      { poly: dGrayPoly, color: COLORS.gray }, { rows: dGrayRows, color: COLORS.gray, size: G },
      { polys: dGrayWhiteMid, color: tex("white", "mid") }, { polys: dGrayWhiteSparse, color: tex("white", "sparse") }, { rows: dGrayWhite, color: COLORS.white, size: W },
      { polys: dRedMid, color: tex("red", "mid") }, { poly: dRedPoly, color: COLORS.red }, { rows: dRedRows, color: COLORS.red, size: C },
      { polys: dOrangeMid, color: tex("orange", "mid") }, { poly: dOrangePoly, color: COLORS.orange }, { rows: dOrangeRows, color: COLORS.orange, size: C }, { rows: dOrangeWhite, color: COLORS.white, size: W },
      { rows: dGreenRows, color: COLORS.green, size: C },
    ],
    titles: [
      { text: "ALDH ->", color: "#14ee14", x: 739, y: 1115 },
      { text: "CD45-PerCP->", color: "#f51414", x: 657, y: 930, rot: true },
    ],
    post: (xs, ys) => (
      <g>
        <rect x={xs(dGrayBaseline[0])} y={ys(0) + 1} width={xs(dGrayBaseline[1]) - xs(dGrayBaseline[0])} height={2.4} fill={COLORS.gray} opacity={0.85} />
        {dGrayLeftEdge.map(([a, b], i) => (
          <rect key={i} x={xs(0)} y={ys(b)} width={1.8} height={ys(a) - ys(b)} fill={COLORS.gray} />
        ))}
        {dGreenBaseline.map(([a, b, h], i) => (
          <rect key={"g" + i} x={xs(a)} y={ys(0) - h / 2 + 1} width={xs(b) - xs(a)} height={h} fill={COLORS.green} />
        ))}
      </g>
    ),
  },
];

const FONT = "'Liberation Sans', Arial, sans-serif";

function Textures() {
  const sets: [string, string[]][] = [["dense", speckDense], ["mid", speckMid], ["sparse", speckSparse]];
  const tints: [string, string][] = [["gray", COLORS.gray], ["red", COLORS.red], ["orange", COLORS.orange], ["green", COLORS.green], ["white", COLORS.white]];
  return (
    <defs>
      {tints.flatMap(([name, col]) =>
        sets.map(([d, rows]) => (
          <pattern key={name + d} id={`${name}-${d}`} patternUnits="userSpaceOnUse" width={SPECK * rows[0].length} height={SPECK * rows.length}>
            {rows.flatMap((r, j) =>
              r.split("").map((c, i) => (c === "x" ? <rect key={i + "-" + j} x={i * SPECK} y={j * SPECK} width={SPECK} height={SPECK} fill={col} /> : null))
            )}
          </pattern>
        ))
      )}
    </defs>
  );
}

function PanelView({ p }: { p: Panel }) {
  const yLog = d3.scaleLog().domain([1, 1e4]).range(p.yr);
  const ys = (e: number) => yLog(10 ** e);
  const xLin = d3.scaleLinear().domain([0, 1024]).range(p.xr);
  const xLogS = d3.scaleLog().domain([1, 1e4]).range(p.xr);
  const xs = (v: number) => (p.xLog ? xLogS(10 ** v) : xLin(v));
  const pathOf = d3.line<number[]>().x((d) => xs(d[0])).y((d) => ys(d[1]));
  const [fl, ft, fr, fb] = p.frame;
  const ink = "#141414";

  const yMinor: { v: number; len: number }[] = [];
  decades.slice(0, -1).forEach((d) => minorFactors.forEach((m) => yMinor.push({ v: Math.log10(m) + d, len: m === 2 ? 8 : 5 })));
  const xMinorPos = p.xLog
    ? decades.slice(0, -1).flatMap((d) => minorFactors.map((m) => ({ px: xs(Math.log10(m) + d), len: 3.5 })))
    : linearMinor.map((v) => ({ px: xs(v), len: v % 128 === 0 ? 9 : 4 }));
  const xMajorPos = p.xLog ? decades.map((d) => xs(d)) : linearTicks.map((v) => xs(v));
  const clip = `plot-${p.letter}`;

  return (
    <g>
      <clipPath id={clip}>
        <rect x={fl} y={ft} width={fr - fl} height={fb - ft} />
      </clipPath>
      <g clipPath={`url(#${clip})`}>
        {p.layers.map((l, i) => {
          if (l.poly) {
            return <path key={i} d={(pathOf(l.poly) || "") + "Z"} fill={l.color} stroke={l.color} strokeWidth={3.6} strokeDasharray="2.2 1.8 3 2.6 1.6 2.2" />;
          }
          if (l.polys) {
            return <g key={i}>{l.polys.map((q, k) => <path key={k} d={(pathOf(q) || "") + "Z"} fill={l.color} />)}</g>;
          }
          const s = l.size || 2.4;
          return (
            <g key={i} fill={l.color}>
              {(l.rows || []).flatMap((r, j) =>
                r.slice(1).map((x, k) => <rect key={j + "-" + k} x={xs(x) - s / 2} y={ys(r[0]) - s / 2} width={s} height={s} />)
              )}
            </g>
          );
        })}
        {p.edge?.map(([a, b], i) => (
          <rect key={i} x={xs(1020) - 1} y={ys(a)} width={2} height={ys(b) - ys(a)} fill={COLORS.edge} />
        ))}
        {p.post?.(xs, ys)}
      </g>
      <rect x={fl} y={ft} width={fr - fl} height={fb - ft} fill="none" stroke={ink} strokeWidth={3} />
      {decades.map((d) => (
        <line key={d} x1={fl} x2={fl - 19} y1={ys(d)} y2={ys(d)} stroke={ink} strokeWidth={2.6} />
      ))}
      {yMinor.map((t, i) => (
        <line key={i} x1={fl} x2={fl - t.len} y1={ys(t.v)} y2={ys(t.v)} stroke={ink} strokeWidth={2.4} />
      ))}
      {xMajorPos.map((px, i) => (
        <line key={i} x1={px} x2={px} y1={fb} y2={fb + 15} stroke={ink} strokeWidth={2.6} />
      ))}
      {xMinorPos.map((t, i) => (
        <line key={i} x1={t.px} x2={t.px} y1={fb} y2={fb + t.len} stroke={ink} strokeWidth={2.4} />
      ))}
      {decades.map((d) => (
        <text key={d} transform={`translate(${p.ylabelX},${ys(d) + 1}) rotate(-90)`} fontFamily={FONT} fontSize={28} textAnchor="middle" fill={ink}>
          10<tspan fontSize={22} dx={3} dy={-10}>{d}</tspan>
        </text>
      ))}
      {p.xLog
        ? decades.map((d) => (
            <text key={d} x={xs(d) + 7} y={p.xlabelY} fontFamily={FONT} fontSize={p.xlabelSize} textAnchor="middle" fill={ink}>
              10<tspan fontSize={p.xlabelSize - 3} dx={3} dy={-13}>{d}</tspan>
            </text>
          ))
        : linearTicks.map((v) => (
            <text key={v} x={v === 0 ? xs(v) + 10 : xs(v) - 1} y={p.xlabelY} fontFamily={FONT} fontSize={p.xlabelSize} textAnchor="middle" fill={ink}>
              {v}
            </text>
          ))}
      <text x={p.lx} y={p.ly} fontFamily={FONT} fontSize={49} fontWeight={700} fill="#000">
        {p.letter}
      </text>
      {p.titles.map((t, i) => (
        <text key={i} transform={`translate(${t.x},${t.y})${t.rot ? " rotate(-90)" : ""}`} fontFamily={FONT} fontSize={46.5} fill={t.color}>
          {t.text}
        </text>
      ))}
    </g>
  );
}

export default function App() {
  return (
    <svg width={1200} height={1130} viewBox="0 0 1200 1130" style={{ position: "absolute", left: 0, top: 0, display: "block", background: "#fff" }}>
      <Textures />
      {panels.map((p) => (
        <PanelView key={p.letter} p={p} />
      ))}
    </svg>
  );
}
